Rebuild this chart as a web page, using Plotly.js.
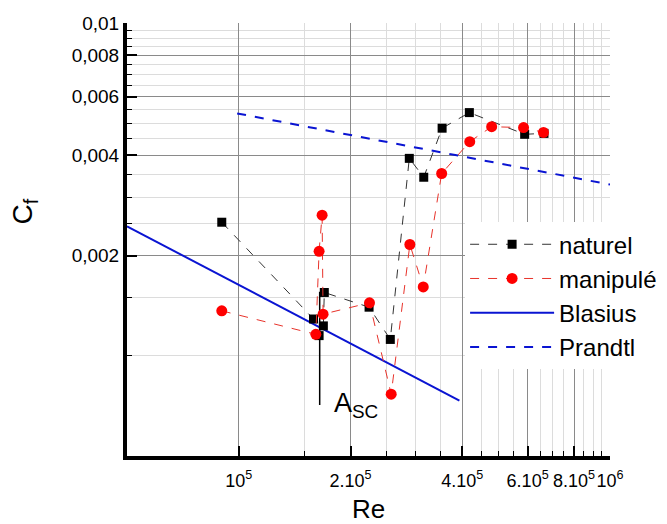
<!DOCTYPE html>
<html>
<head>
<meta charset="utf-8">
<script src="https://cdn.plot.ly/plotly-3.0.1.min.js"></script>
<style>html,body{margin:0;padding:0;background:#fff;}#chart{width:667px;height:524px;}</style>
</head>
<body>
<div id="chart"></div>
<script>
// ---- data ----
const naturelRe = [90000, 159000, 164600, 169000, 170000, 224400, 256000, 288000, 315000, 353000, 418000, 589000, 664000];
const naturelCf = [0.00252, 0.00129, 0.00115, 0.00123, 0.00155, 0.00140, 0.00112, 0.00392, 0.00344, 0.00483, 0.00538, 0.00463, 0.00466];

const manipRe = [90000, 161300, 164600, 167700, 168700, 225000, 257400, 289000, 314000, 352000, 419000, 480000, 585000, 662000];
const manipCf = [0.001365, 0.00116, 0.00206, 0.002646, 0.001334, 0.001443, 0.000767, 0.00216, 0.00161, 0.00353, 0.00440, 0.00488, 0.00485, 0.00469];

const blasiusRe = [50000, 393000];
const blasiusCf = [0.00245, 0.000733];

const prandtlRe = [99000, 1000000];
const prandtlCf = [0.00535, 0.00327];

const ascRe = [165200, 165200, 170000];
const ascCf = [0.000711, 0.00155, 0.00155];

const xTickVals = [100000, 200000, 400000, 600000, 800000, 1000000];
const xTickText = ['10<sup>5</sup>', '2.10<sup>5</sup>', '4.10<sup>5</sup>', '6.10<sup>5</sup>', '8.10<sup>5</sup>', '10<sup>6</sup>'];
const xMinorVals = [150000, 250000, 300000, 350000, 450000, 500000, 550000, 650000, 700000, 750000, 850000, 900000, 950000];

const yTickVals = [0.002, 0.004, 0.006, 0.008, 0.01];
const yTickText = ['0,002', '0,004', '0,006', '0,008', '0,01'];
const yMinorVals = [0.001, 0.0015, 0.0025, 0.003, 0.0035, 0.0045, 0.005, 0.0055, 0.0065, 0.007, 0.0075, 0.0085, 0.009, 0.0095];

const FONT = 'Liberation Sans, Arial, sans-serif';

const traces = [
  {x: blasiusRe, y: blasiusCf, name: 'Blasius', mode: 'lines',
   line: {color: '#0a14d2', width: 2}, legendrank: 3},
  {x: prandtlRe, y: prandtlCf, name: 'Prandtl', mode: 'lines',
   line: {color: '#0a14d2', width: 2, dash: 'dash'}, legendrank: 4},
  {x: ascRe, y: ascCf, mode: 'lines', showlegend: false, hoverinfo: 'skip',
   line: {color: '#000', width: 1.5}},
  {x: naturelRe, y: naturelCf, name: 'naturel', mode: 'lines+markers',
   line: {color: '#333', width: 1, dash: 'dash'},
   marker: {symbol: 'square', size: 9, color: '#000'}, legendrank: 1},
  {x: manipRe, y: manipCf, name: 'manipulé', mode: 'lines+markers',
   line: {color: '#e8332b', width: 1, dash: 'dash'},
   marker: {symbol: 'circle', size: 11, color: '#ff0000'}, legendrank: 2}
];

const layout = {
  width: 667, height: 524,
  margin: {l: 127, r: 57, t: 23, b: 68, autoexpand: false},
  paper_bgcolor: '#fff', plot_bgcolor: '#fff',
  font: {family: FONT, color: '#000'},
  showlegend: true,
  legend: {x: 0.70, y: 0.54, xanchor: 'left', yanchor: 'top',
           bgcolor: '#fff', borderwidth: 0, font: {size: 24, family: FONT},
           traceorder: 'normal', itemwidth: 84},
  xaxis: {
    type: 'log', range: [Math.log10(50000), 6], automargin: false,
    tickmode: 'array', tickvals: xTickVals, ticktext: xTickText,
    tickfont: {size: 18, family: FONT}, tickangle: 0, ticklabelstandoff: 5,
    ticks: 'inside', ticklen: 10, tickwidth: 2, tickcolor: '#000',
    showline: true, linecolor: '#000', linewidth: 4, mirror: false,
    showgrid: true, gridcolor: '#8a8a8a', gridwidth: 1,
    zeroline: false,
    minor: {tickmode: 'array', tickvals: xMinorVals, ticks: 'inside', ticklen: 5,
            tickwidth: 1, tickcolor: '#000', showgrid: true, gridcolor: '#dcdcdc', gridwidth: 1},
    title: {text: 'Re', font: {size: 26, family: FONT}, standoff: 12}
  },
  yaxis: {
    type: 'log', range: [Math.log10(0.0005), -2], automargin: false,
    tickmode: 'array', tickvals: yTickVals, ticktext: yTickText,
    tickfont: {size: 19, family: FONT},
    ticks: 'inside', ticklen: 10, tickwidth: 2, tickcolor: '#000',
    showline: true, linecolor: '#000', linewidth: 4, mirror: false,
    showgrid: true, gridcolor: '#8a8a8a', gridwidth: 1,
    zeroline: false,
    minor: {tickmode: 'array', tickvals: yMinorVals, ticks: 'inside', ticklen: 5,
            tickwidth: 1, tickcolor: '#000', showgrid: true, gridcolor: '#dcdcdc', gridwidth: 1}
  },
  annotations: [
    {xref: 'paper', yref: 'paper', x: 0.424, y: 0.117, xanchor: 'left', yanchor: 'middle',
     text: 'A<sub>SC</sub>', showarrow: false, font: {size: 27, family: FONT, color: '#000'}},
    {xref: 'paper', yref: 'paper', x: -0.213, y: 0.565, xanchor: 'center', yanchor: 'middle',
     text: 'C<sub>f</sub>', textangle: -90, showarrow: false, font: {size: 28, family: FONT, color: '#000'}}
  ]
};

Plotly.newPlot('chart', traces, layout, {displayModeBar: false, staticPlot: true});
</script>
</body>
</html>
